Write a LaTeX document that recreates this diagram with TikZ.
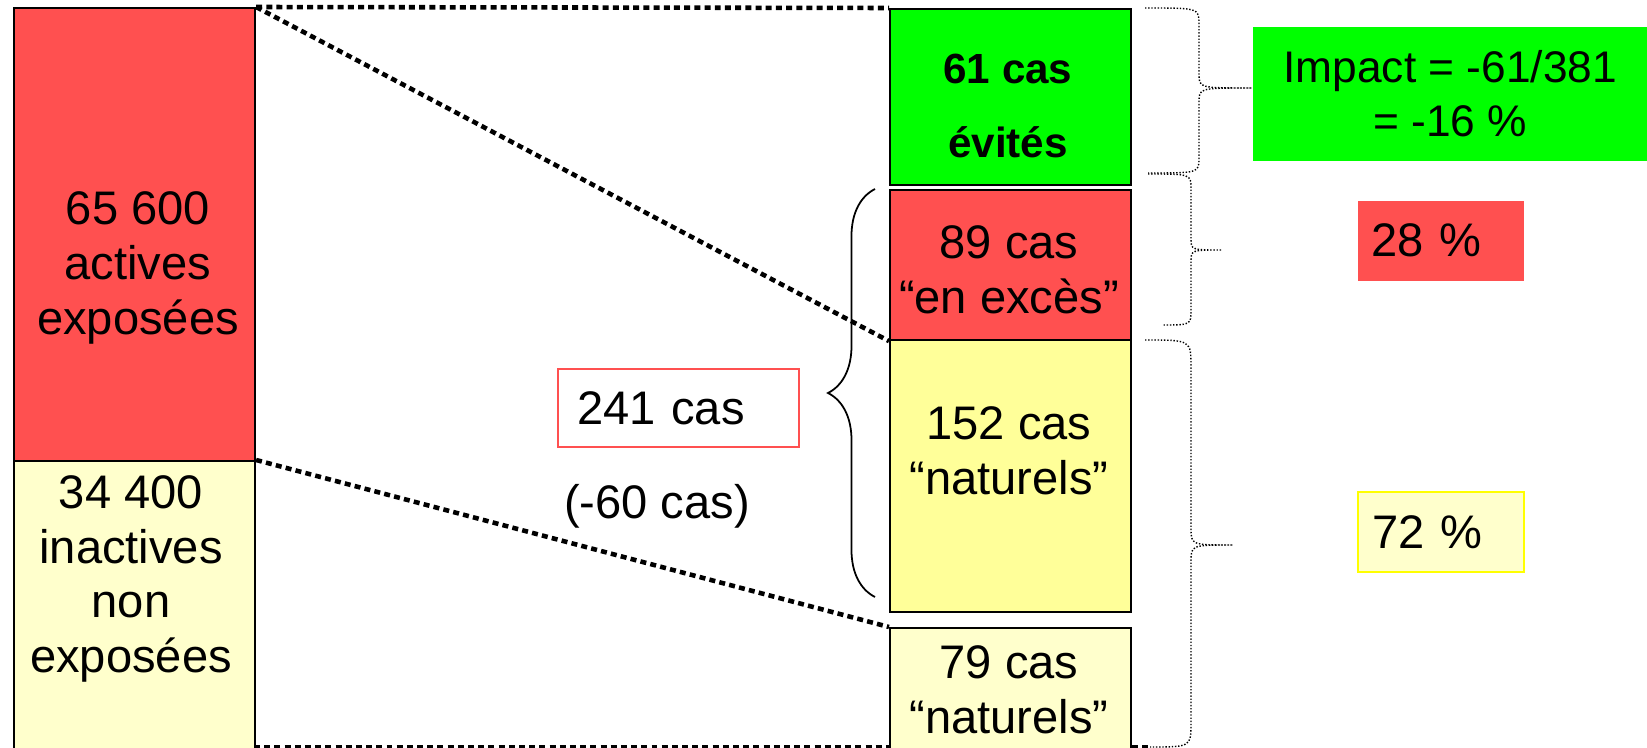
\documentclass[tikz,border=0pt]{standalone}
\usepackage{fontspec}
\setmainfont{Liberation Sans}
\usetikzlibrary{positioning,decorations.pathreplacing}

\definecolor{rouge}{RGB}{255,80,80}
\definecolor{vert}{RGB}{0,255,0}
\definecolor{jaune}{RGB}{255,255,153}
\definecolor{jaunepale}{RGB}{255,255,204}
\definecolor{jaunevif}{RGB}{255,255,0}

\begin{document}
\begin{tikzpicture}[x=1cm, y=-1cm, font=\fontsize{13.4}{15.6}\selectfont]
\tikzset{
    bloc/.style= {draw=black, line width=0.6pt, inner sep=0pt, anchor=north west, minimum width=2.41cm},
    txt/.style= {align=center, inner sep=0pt},
    pct/.style= {anchor=north west, text width=1.38cm, inner xsep=0.14cm, minimum height=0.80cm, align=left},
    zoomline/.style= {line width=1.3pt, dash pattern=on 1.7pt off 1.2pt},
    accol/.style= {line width=0.5pt, decorate, decoration={brace, amplitude=0.47cm}},
    pointille/.style= {line width=0.4pt, dash pattern=on 0.4pt off 0.5pt},
}
\useasboundingbox (0,0) rectangle (16.47,7.48);

% population
\node[bloc, fill=rouge, minimum height=4.53cm] (expo) at (0.13,0.07) {};
\node[bloc, fill=jaunepale, minimum height=3.00cm] (nonexpo) at (0.13,4.60) {};
\node[txt] (expotxt) at (1.38,2.68) {65 600\\actives\\exposées};
\node[txt] (nonexpotxt) at (1.31,5.79) {34 400\\inactives\\non\\exposées};

% cas
\node[bloc, fill=vert, minimum height=1.76cm] (evit) at (8.89,0.08) {};
\node[bloc, fill=rouge, minimum height=1.50cm] (exces) at (8.89,1.89) {};
\node[bloc, fill=jaune, minimum height=2.72cm] (natA) at (8.89,3.39) {};
\node[bloc, fill=jaunepale, minimum height=1.30cm] (natB) at (8.89,6.27) {};
\node[txt, font=\fontsize{12}{21.3}\selectfont\bfseries] (evittxt) at (10.08,1.06) {61 cas\\évités};
\node[txt] (excestxt) at (10.09,2.70) {89 cas\\“en excès”};
\node[txt] (natAtxt) at (10.09,4.51) {152 cas\\“naturels”};
\node[txt] (natBtxt) at (10.09,6.90) {79 cas\\“naturels”};

\coordinate (basG) at (2.54,7.47);
\coordinate (basD) at (11.50,7.47);
\draw[zoomline] (expo.north east) -- (evit.north west);
\draw[zoomline] (expo.north east) -- (exces.south west);
\draw[zoomline] (nonexpo.north east) -- (natB.north west);
\draw[zoomline] (basG) -- (natB.west |- basG);
\draw[zoomline] (natB.east |- basD) -- (basD);

% total
\node[pct, draw=rouge, line width=0.6pt, fill=white, text width=2.03cm, inner xsep=0.19cm, minimum height=0.78cm] (total) at (5.57,3.68) {241 cas};
\node (ecart) at (6.57,5.06) {(-60 cas)};
\draw[accol] (8.75,5.97) -- (8.75,1.89);

% accolades
\draw[pointille] (11.45,0.08) .. controls (11.99,0.08) .. (11.99,0.24) -- (11.99,0.74)
  .. controls (11.99,0.88) .. (12.52,0.88) .. controls (11.99,0.88) .. (11.99,1.02)
  -- (11.99,1.58) .. controls (11.99,1.73) .. (11.48,1.73);
\draw[pointille] (11.48,1.74) .. controls (11.91,1.74) .. (11.91,1.89) -- (11.91,2.38)
  .. controls (11.91,2.50) .. (12.22,2.50) .. controls (11.91,2.50) .. (11.91,2.62)
  -- (11.91,3.10) .. controls (11.91,3.25) .. (11.62,3.25);
\draw[pointille] (11.45,3.40) .. controls (11.91,3.40) .. (11.91,3.67) -- (11.91,5.28)
  .. controls (11.91,5.45) .. (12.33,5.45) .. controls (11.91,5.45) .. (11.91,5.62)
  -- (11.91,7.23) .. controls (11.91,7.47) .. (11.50,7.47);

% impact
\node[fill=vert, inner sep=0pt, anchor=north west, minimum width=3.95cm, minimum height=1.34cm,
  align=center, font=\fontsize{12.6}{15.5}\selectfont] (impact) at (12.52,0.26) {Impact = -61/381\\= -16 \%};
\node[pct, fill=rouge] (pctA) at (13.57,2.00) {28 \%};
\node[pct, fill=jaunepale, draw=jaunevif, line width=0.6pt] (pctB) at (13.57,4.91) {72 \%};
\end{tikzpicture}
\end{document}
